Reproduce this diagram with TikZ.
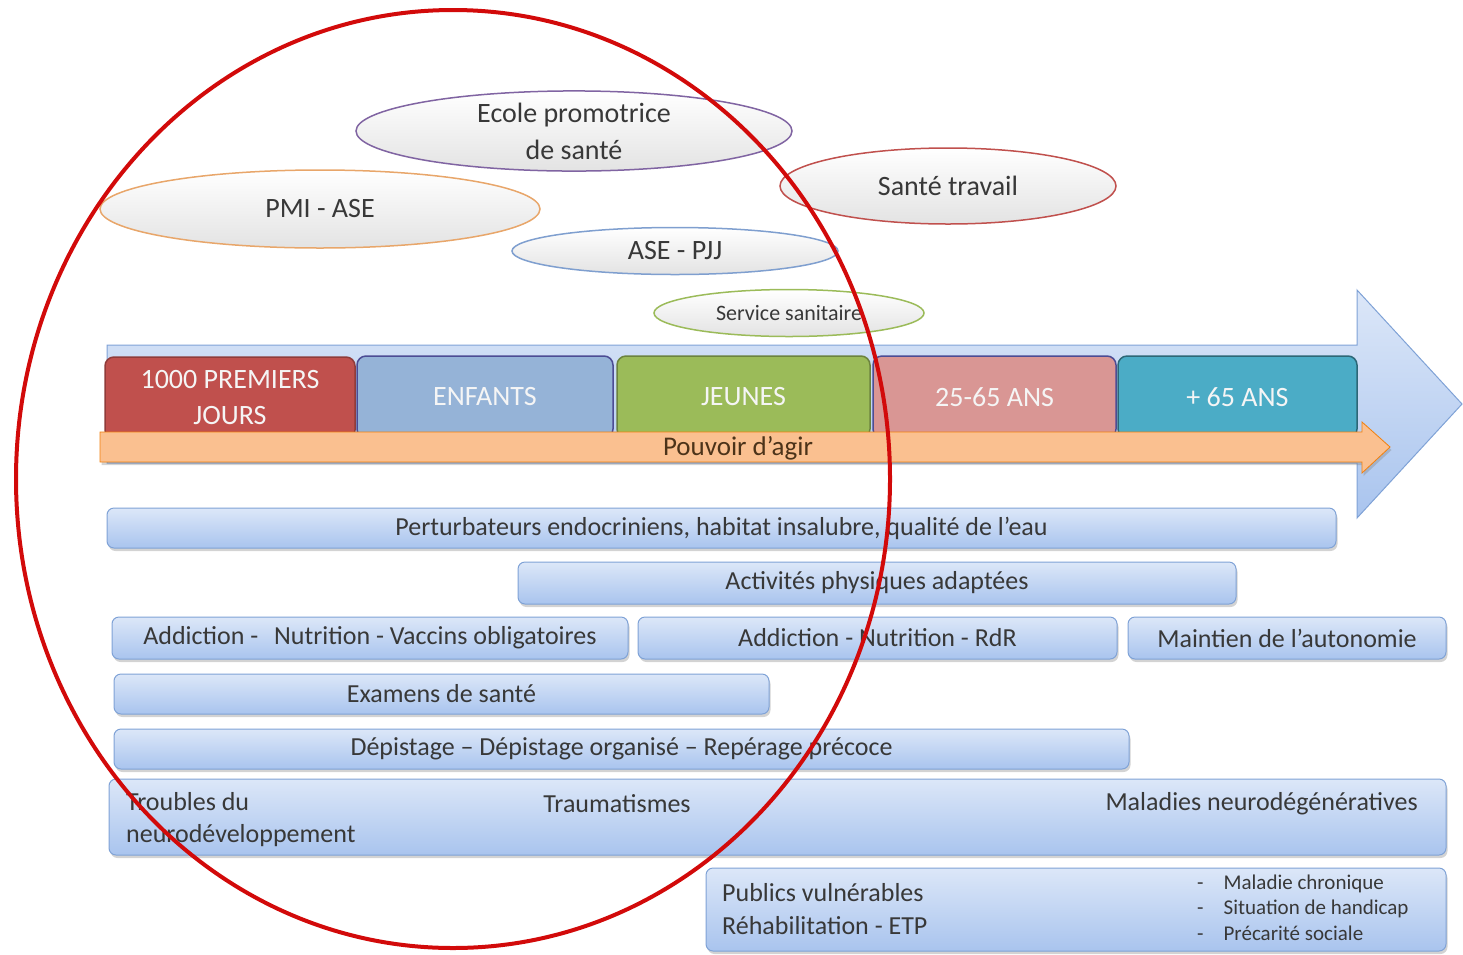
\documentclass[tikz,border=0pt]{standalone}
\usepackage{fontspec}
\setmainfont{Carlito}
\usetikzlibrary{shapes.geometric,shadows}
\definecolor{rouge1000}{HTML}{C0504D}
\definecolor{bleuenf}{HTML}{95B3D7}
\definecolor{vertjeu}{HTML}{9BBB59}
\definecolor{roseadu}{HTML}{D99694}
\definecolor{bleusen}{HTML}{4BACC6}
\definecolor{violetecole}{HTML}{8064A2}
\definecolor{orangepmi}{HTML}{E8A66A}
\definecolor{bleupjj}{HTML}{7F9FCF}
\definecolor{barhaut}{HTML}{DCE7F8}
\definecolor{barbas}{HTML}{A9C4EE}
\definecolor{barbord}{HTML}{7FA2D6}
\definecolor{orangeagir}{HTML}{FAC090}
\definecolor{cercle}{HTML}{D20A0A}

\begin{document}
\begin{tikzpicture}[x=1pt,y=-1pt,
  bulle/.style={ellipse,inner sep=0pt,line width=1.5pt,top color=white,bottom color=gray!22,
    text=black!78,font=\fontsize{28}{37}\selectfont,align=center},
  onglet/.style={rounded corners=9pt,inner sep=0pt,line width=1.5pt,text=white!92!gray,
    font=\fontsize{28}{36}\selectfont,align=center},
  barre/.style={rounded corners=7pt,draw=barbord,line width=1pt,top color=barhaut,bottom color=barbas,
    inner sep=0pt,text=black!78,font=\fontsize{26}{32}\selectfont,
    drop shadow={shadow xshift=1.5pt,shadow yshift=-3pt,opacity=0.35}},
  texte/.style={inner sep=0pt,text=black!78,font=\fontsize{26}{32}\selectfont,align=left}]
  \useasboundingbox (0,0) rectangle (1463,954);
  % Bulles
  \node[bulle,draw=violetecole,minimum width=436pt,minimum height=76pt] (ecole) at (574,131)
      {Ecole promotrice\\de santé};
  \node[bulle,draw=orangepmi,minimum width=440pt,minimum height=78pt] (pmi) at (320,209) {PMI - ASE};
  \node[bulle,draw=rouge1000,minimum width=336pt,minimum height=76pt] (travail) at (948,186) {Santé travail};
  \node[bulle,draw=bleupjj,minimum width=326pt,minimum height=47pt] (pjj) at (675,251) {ASE - PJJ};
  \node[bulle,draw=vertjeu,minimum width=270pt,minimum height=47pt,font=\fontsize{22}{26}\selectfont]
      (sanitaire) at (789,313) {Service sanitaire};
  % Grande flèche des âges
  \draw[draw=barbord,top color=barhaut,bottom color=barbas,line width=1pt]
      (107,345) -- (1357,345) -- (1357,290) -- (1462,404) -- (1357,518) -- (1357,463) -- (107,463) -- cycle;
  % Onglets
  \node[onglet,draw=rouge1000!75!black,fill=rouge1000,minimum width=250pt,minimum height=82pt] (t1000)
      at (230,398) {1000 PREMIERS\\JOURS};
  \node[onglet,draw=blue!40!black!70,fill=bleuenf,minimum width=256pt,minimum height=82pt] (enfants)
      at (485,397) {ENFANTS};
  \node[onglet,draw=vertjeu!70!black,fill=vertjeu,minimum width=253pt,minimum height=82pt] (jeunes)
      at (743.5,397) {JEUNES};
  \node[onglet,draw=blue!40!black!70,fill=roseadu,minimum width=243pt,minimum height=82pt] (adultes)
      at (994.5,397) {25-65 ANS};
  \node[onglet,draw=bleusen!60!black,fill=bleusen,minimum width=239pt,minimum height=82pt] (seniors)
      at (1237.5,397) {+ 65 ANS};
  % Pouvoir d'agir
  \draw[draw=orange!80!brown,fill=orangeagir,line width=0.8pt,
      drop shadow={shadow xshift=1.5pt,shadow yshift=-3pt,opacity=0.35}]
      (100,432) -- (1362,432) -- (1362,422) -- (1390,447) -- (1362,473) -- (1362,462) -- (100,462) -- cycle;
  \node[texte,text=brown!40!black,font=\fontsize{27}{32}\selectfont] (agir) at (738,448) {Pouvoir d’agir};
  % Barres
  \node[barre,minimum width=1229pt,minimum height=40pt] (perturb) at (721.5,528)
      {Perturbateurs endocriniens, habitat insalubre, qualité de l’eau};
  \node[barre,minimum width=718pt,minimum height=42pt] (activites) at (877,583) {Activités physiques adaptées};
  \node[barre,minimum width=516pt,minimum height=42pt] (addict1) at (370,638)
      {Addiction -\hspace{10pt} Nutrition - Vaccins obligatoires};
  \node[barre,minimum width=479pt,minimum height=42pt] (addict2) at (877.5,638) {Addiction - Nutrition - RdR};
  \node[barre,minimum width=318pt,minimum height=42pt] (autonomie) at (1287,638) {Maintien de l’autonomie};
  \node[barre,minimum width=655pt,minimum height=40pt] (examens) at (441.5,694) {Examens de santé};
  \node[barre,minimum width=1015pt,minimum height=40pt] (depistage) at (621.5,749)
      {Dépistage – Dépistage organisé – Repérage précoce};
  \node[barre,minimum width=1337pt,minimum height=76pt] (maladies) at (777.5,817) {};
  \node[texte,anchor=west] (troubles) at (126,820) {Troubles du\\neurodéveloppement};
  \node[texte] (trauma) at (617,804) {Traumatismes};
  \node[texte,anchor=east] (neuro) at (1418,804) {Maladies neurodégénératives};
  \node[barre,minimum width=740pt,minimum height=83pt] (publics) at (1076,909.5) {};
  \node[texte,anchor=west,font=\fontsize{26}{33}\selectfont] (vulnerables) at (722,909.5)
      {Publics vulnérables\\Réhabilitation - ETP};
  \node[texte,anchor=west,font=\fontsize{21}{25.5}\selectfont] (liste) at (1197,907.5)
      {-\hspace{20pt}Maladie chronique\\-\hspace{20pt}Situation de handicap\\-\hspace{20pt}Précarité sociale};
  % Cercle rouge
  \draw[cercle,line width=4pt] (453,479) ellipse [x radius=437, y radius=469];
\end{tikzpicture}
\end{document}
